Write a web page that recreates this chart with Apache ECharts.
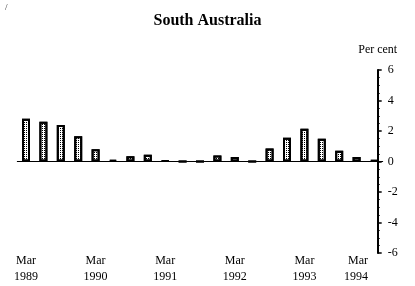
<!DOCTYPE html>
<html>
<head>
<meta charset="utf-8">
<script src="https://cdn.jsdelivr.net/npm/echarts@6/dist/echarts.min.js"></script>
<style>
  html, body { margin: 0; padding: 0; background: #fff; }
  #chart { width: 415px; height: 286px; }
</style>
</head>
<body>
<div id="chart"></div>
<script>
// quarterly, Mar 1989 .. Mar 1994
var quarters = [
  'Mar 1989', 'Jun 1989', 'Sep 1989', 'Dec 1989',
  'Mar 1990', 'Jun 1990', 'Sep 1990', 'Dec 1990',
  'Mar 1991', 'Jun 1991', 'Sep 1991', 'Dec 1991',
  'Mar 1992', 'Jun 1992', 'Sep 1992', 'Dec 1992',
  'Mar 1993', 'Jun 1993', 'Sep 1993', 'Dec 1993',
  'Mar 1994'
]
var growth = [
  2.8, 2.6, 2.4, 1.65,
  0.8, 0.1, 0.35, 0.45,
  0.05, 0, 0, 0.4,
  0.3, 0, 0.85, 1.55,
  2.15, 1.5, 0.7, 0.3,
  0.1
]
var yTicks = { min: -6, max: 6, step: 2 }

var serif = '"Liberation Serif", "DejaVu Serif", serif'

// the last date label sits left of its bar, next to the axis labels
var labelData = quarters.map(function (q, i) {
  if (i === quarters.length - 1) {
    return { value: q, textStyle: { align: 'right', padding: [0, 6, 0, 0] } }
  }
  return q
})

var chart = echarts.init(document.getElementById('chart'))
chart.setOption({
  animation: false,
  aria: { enabled: true, decal: { show: true } },
  title: {
    text: 'South Australia',
    left: 'center',
    top: 8,
    textStyle: { fontFamily: serif, fontSize: 16, fontWeight: 'bold', color: '#000' }
  },
  graphic: [
    { type: 'text', left: 5, top: 3, style: { text: '/', font: '9px ' + serif, fill: '#333' } }
  ],
  grid: { left: 17.3, right: 32.3, top: 70, bottom: 33 },
  xAxis: [
    {
      // zero line
      type: 'category',
      data: quarters,
      axisLine: { onZero: true, lineStyle: { color: '#000', width: 1 } },
      axisTick: { show: false },
      axisLabel: { show: false }
    },
    {
      // date labels at the bottom
      type: 'category',
      data: labelData,
      position: 'bottom',
      axisLine: { show: false, onZero: false },
      axisTick: { show: false },
      axisLabel: {
        interval: 0,
        margin: 0,
        fontFamily: serif,
        fontSize: 12,
        lineHeight: 16,
        color: '#000',
        formatter: function (v) {
          return v.indexOf('Mar') === 0 ? v.replace(' ', '\n') : ''
        }
      }
    }
  ],
  yAxis: {
    type: 'value',
    position: 'right',
    offset: -5,
    min: yTicks.min,
    max: yTicks.max,
    interval: yTicks.step,
    name: 'Per cent',
    nameGap: 14,
    nameTextStyle: { fontFamily: serif, fontSize: 12, color: '#000' },
    axisLine: { show: true, lineStyle: { color: '#000', width: 2 } },
    axisTick: { show: true, length: 4, lineStyle: { color: '#000', width: 1.5 } },
    minorTick: { show: true, splitNumber: 4, length: 2, lineStyle: { color: '#000' } },
    axisLabel: { margin: 10, fontFamily: serif, fontSize: 12, color: '#000' },
    splitLine: { show: false }
  },
  series: [
    {
      type: 'bar',
      xAxisIndex: 0,
      data: growth,
      barWidth: 8,
      itemStyle: {
        color: '#fff',
        borderColor: '#000',
        borderWidth: 2,
        decal: {
          symbol: 'rect',
          symbolSize: 1,
          color: '#000',
          dashArrayX: [[1, 1]],
          dashArrayY: [1, 1],
          rotation: 0
        }
      }
    }
  ]
})
</script>
</body>
</html>
